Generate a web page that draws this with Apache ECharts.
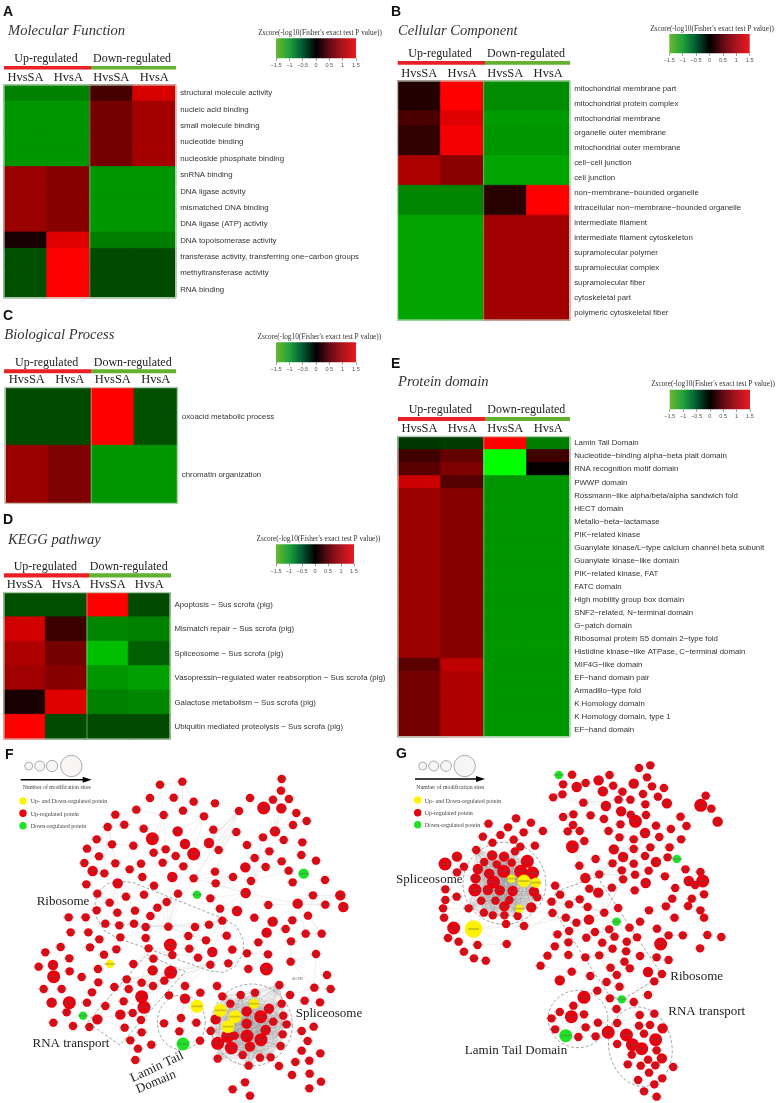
<!DOCTYPE html>
<html><head><meta charset="utf-8">
<style>html,body{margin:0;padding:0;background:#fff}#c{width:778px;height:1103px}</style>
<script src="https://cdn.jsdelivr.net/npm/echarts@6/dist/echarts.min.js"></script>
</head><body><div id="c"></div>
<script>
const columns = ['HvsSA','HvsA','HvsSA','HvsA'];
const legendTicks = [-1.5,-1,-0.5,0,0.5,1,1.5];

const aRows = ['structural molecule activity','nucleic acid binding','small molecule binding','nucleotide binding','nucleoside phosphate binding','snRNA binding','DNA ligase activity','mismatched DNA binding','DNA ligase (ATP) activity','DNA topoisomerase activity','transferase activity, transferring one\u2212carbon groups','methyltransferase activity','RNA binding'];
const aValues = [[-.76,-.76,.41,1.26],[-.88,-.88,.68,.97],[-.88,-.88,.68,.97],[-.88,-.88,.68,.97],[-.88,-.88,.68,.97],[.91,.79,-.88,-.88],[.91,.79,-.88,-.88],[.91,.79,-.88,-.88],[.91,.79,-.88,-.88],[.15,1.32,-.74,-.74],[-.47,1.5,-.44,-.44],[-.47,1.5,-.44,-.44],[-.47,1.5,-.44,-.44]];

const bRows = ['mitochondrial membrane part','mitochondrial protein complex','mitochondrial membrane','organelle outer membrane','mitochondrial outer membrane','cell\u2212cell junction','cell junction','non\u2212membrane\u2212bounded organelle','intracellular non\u2212membrane\u2212bounded organelle','intermediate filament','intermediate filament cytoskeleton','supramolecular polymer','supramolecular complex','supramolecular fiber','cytoskeletal part','polymeric cytoskeletal fiber'];
const bValues = [[.2,1.5,-.82,-.82],[.2,1.5,-.82,-.82],[.44,1.32,-.91,-.91],[.29,1.44,-.88,-.88],[.29,1.44,-.88,-.88],[1,.82,-.97,-.97],[1,.82,-.97,-.97],[-.79,-.79,.24,1.5],[-.79,-.79,.24,1.5],[-.97,-.97,.94,.94],[-.97,-.97,.94,.94],[-.97,-.97,.94,.94],[-.97,-.97,.94,.94],[-.97,-.97,.94,.94],[-.97,-.97,.94,.94],[-.97,-.97,.94,.94]];

const cRows = ['oxoacid metabolic process','chromatin organization'];
const cValues = [[-.44,-.44,1.5,-.47],[.91,.74,-.88,-.88]];

const dRows = ['Apoptosis \u2212 Sus scrofa (pig)','Mismatch repair \u2212 Sus scrofa (pig)','Spliceosome \u2212 Sus scrofa (pig)','Vasopressin\u2212regulated water reabsorption \u2212 Sus scrofa (pig)','Galactose metabolism \u2212 Sus scrofa (pig)','Ubiquitin mediated proteolysis \u2212 Sus scrofa (pig)'];
const dValues = [[-.47,-.47,1.5,-.44],[1.24,.35,-.79,-.76],[1.03,.68,-1.12,-.56],[.94,.79,-.88,-.94],[.15,1.32,-.76,-.79],[1.5,-.44,-.44,-.44]];

const eRows = ['Lamin Tail Domain','Nucleotide\u2212binding alpha\u2212beta plait domain','RNA recognition motif domain','PWWP domain','Rossmann\u2212like alpha/beta/alpha sandwich fold','HECT domain','Metallo\u2212beta\u2212lactamase','PIK\u2212related kinase','Guanylate kinase/L\u2212type calcium channel beta subunit','Guanylate kinase\u2212like domain','PIK\u2212related kinase, FAT','FATC domain','High mobility group box domain','SNF2\u2212related, N\u2212terminal domain','G\u2212patch domain','Ribosomal protein S5 domain 2\u2212type fold','Histidine kinase\u2212like ATPase, C\u2212terminal domain','MIF4G\u2212like domain','EF\u2212hand domain pair','Armadillo\u2212type fold','K Homology domain','K Homology domain, type 1','EF\u2212hand domain'];
const eValues = [[-.32,-.35,1.5,-.74],[.38,.59,-1.5,.38],[.53,.74,-1.5,.03],[1.2,.5,-.88,-.88],[.91,.79,-.88,-.88],[.91,.79,-.88,-.88],[.91,.79,-.88,-.88],[.91,.79,-.88,-.88],[.91,.79,-.88,-.88],[.91,.79,-.88,-.88],[.91,.79,-.88,-.88],[.91,.79,-.88,-.88],[.91,.79,-.88,-.88],[.91,.79,-.88,-.88],[.91,.79,-.88,-.88],[.91,.79,-.88,-.88],[.91,.79,-.88,-.88],[.53,1.12,-.88,-.88],[.68,1.03,-.88,-.88],[.68,1.03,-.88,-.88],[.68,1.03,-.88,-.88],[.68,1.03,-.88,-.88],[.68,1.03,-.88,-.88]];

// Network F: node readings [x, y, size class] in reference crop units
const fUp = [[480,119],[547,110],[450,159],[521,158],[581,170],[549,197],[645,175],[612,214],[409,194],[491,210],[346,209],[373,239],[323,246],[431,251],[533,259,2],[290,283],[457,281,3],[336,298],[400,302],[261,311],[297,334],[253,354],[346,355],[278,378,2],[313,385],[389,373],[423,356],[427,396],[461,323],[497,313],[527,333],[555,297,2],[581,327,3],[488,353],[550,364],[627,294,2],[656,315],[640,254],[709,261],[717,198],[750,159],[741,300],[789,277],[791,189,3],[819,164],[845,102],[843,137],[867,162],[844,190,2],[889,204],[920,228],[879,240],[825,259,2],[851,285],[907,292],[904,330],[948,347],[845,349],[808,319],[764,339],[736,367,2],[797,366],[866,377],[878,412],[975,405],[753,408],[737,444,2],[699,396],[645,380],[647,415],[581,400],[517,396,2],[462,422],[353,415,2],[259,418],[292,446],[378,455],[432,449],[329,473],[534,446],[631,460],[500,471],[472,488],[352,503],[405,497],[290,496],[316,536],[358,541],[402,536],[451,513],[437,546],[505,545],[585,546],[627,539],[667,527],[660,491],[711,498,2],[763,518],[805,480],[893,476,2],[939,451],[976,479],[1021,451,2],[1030,486,2],[924,512],[877,526],[818,530,2],[800,563,2],[857,552],[917,566],[965,566],[873,589],[775,592],[680,572],[565,573],[618,586],[361,577],[437,579],[511,600,3],[568,611],[637,621,2],[697,614],[517,630],[594,638],[685,655],[631,659],[741,625],[804,628],[745,672],[799,672,3],[872,650],[948,627],[446,610],[460,641],[400,657],[298,583],[270,607],[349,613],[312,629],[206,517],[257,517],[212,562],[265,562],[182,606],[136,622],[208,640],[116,665],[159,660,2],[209,679],[161,695,3],[294,672],[245,696],[295,712],[131,732],[185,732],[276,742],[155,773,2],[208,773,3],[261,773],[200,802],[160,833],[219,843],[268,846],[292,823,2],[316,783],[374,848],[343,726],[380,703],[425,713],[458,676,2],[512,682,3],[493,707],[459,723],[386,732],[425,755,3],[371,769],[432,787,3],[361,809,2],[398,804],[423,825],[507,751],[555,723],[555,761,2],[601,743],[651,723],[543,819],[589,833],[492,835],[538,859],[600,887],[425,862],[391,886],[454,899],[414,911],[406,945],[870,750],[914,767],[960,772],[943,728],[981,690],[992,732],[905,858],[941,845],[923,888],[905,917],[961,925],[886,951],[928,947],[837,963],[876,990],[929,986],[963,1010],[928,1030],[735,1012],[698,1033],[750,1052]];
const fSpliceUp = [[838,720],[667,754],[722,750],[765,743],[691,776],[845,776],[647,823,2],[632,858],[740,799,2],[807,791,2],[782,815,3],[850,812],[820,830],[860,838],[740,836,2],[797,855,2],[704,872],[683,874,3],[741,873,3],[783,884,3],[848,868],[653,895,3],[694,909,3],[750,905,2],[842,903],[728,930],[780,938],[812,937],[653,941],[746,962]];
const fBoth = [[330,657,1],[591,784,3],[762,776,2],[661,796,3],[705,815,3],[684,845,3]];
const fDown = [[911,386,2],[591,449],[249,812],[549,897,3]];
const fFans = [
[667,527,505,545,437,546,585,546,565,573,618,586,627,539,568,611,637,621,680,572,697,614,594,638,631,460,660,491],
[717,198,581,400,550,364,517,396,627,294,656,315,645,380,581,327,581,400,640,254],
[709,261,581,400,627,294,656,315,550,364],
[753,408,789,277,764,339,808,319,797,366,736,367,845,349,851,285,741,300,866,377,737,444],
[825,259,791,189,819,164,843,137,844,190,889,204,851,285,879,240,764,339,867,162],
[845,102,843,137,867,162,819,164],
[893,476,805,480,939,451,976,479,1021,451,924,512,877,526,818,530,737,444,965,566,917,566,1030,486],
[939,451,976,479,1021,451,924,512],[965,566,924,512,917,566],
[737,444,645,380,581,400,805,480,660,491,631,460,647,415],
[324,246,346,209,373,239,290,283,336,298,346,355,313,385,253,354,261,311],
[336,298,278,378,297,334,261,311,346,355,290,283,253,354,400,302],
[409,194,450,159,491,210,373,239,431,251,346,209],[491,210,480,119,457,281,497,313,461,323],
[547,110,521,158,612,214,549,197,581,170,480,119],[612,214,645,175,640,254,555,297,581,327,533,259],
[353,415,505,545,292,446,378,455,329,473,290,496,316,536,352,503,405,497,432,449,346,355,313,385,389,373,427,396],
[505,545,437,546,358,541,402,536,451,513,316,536,361,577,437,579,627,539,585,546,565,573,500,471,472,488,517,396,462,422,534,446,550,364,581,400,618,586,511,600,352,503],
[292,446,329,473,352,503,290,496,405,497],[316,536,358,541,402,536,352,503,361,577],
[446,610,458,676,512,682,425,713,380,703,400,657,460,641],
[631,659,512,682,458,676,493,707,555,723,425,755,380,703,459,723],
[512,682,380,703,425,713,386,732,343,726,371,769,432,787,361,809,316,783,292,823,398,804,459,723,493,707,425,755],
[432,787,343,726,386,732,374,848,361,809,423,825,292,823,371,769],[292,823,380,703,316,783,343,726,361,809,374,848],
[555,761,591,784,543,819,589,833,492,835,538,859,507,751],[549,897,543,819,492,835,589,833,538,859,600,887,591,784],
[943,728,914,767,870,750,960,772,981,690,992,732,948,627,860,838],
[905,858,941,845,923,888,905,917,961,925,848,868,860,838,886,951],
[804,628,741,625,745,672,799,672,800,563,775,592,873,589],[800,563,818,530,763,518,857,552],[872,650,948,627,873,589,943,728],
[206,517,257,517,212,562],[257,517,265,562],[159,660,116,665,136,622,182,606,208,640,209,679,161,695],[208,773,155,773,261,773,200,802],
[249,812,219,843,160,833,268,846,292,823],[298,583,270,607,349,613],[312,629,349,613],
[581,400,645,380,699,396,517,396,534,446],[660,491,711,498,631,460],[763,518,805,480,818,530],[445,610,568,611,517,630,594,638]
];
const fRibosome = [[353,408],[400,413],[680,525],[710,545],[730,585],[730,625],[705,665],[670,682],[630,678],[350,578],[310,555],[288,515],[285,470],[300,435],[325,415],[353,408]];
const fRna = [[440,628],[555,680],[360,900],[262,832],[440,628]];
const fRings = [[755,840,122,123,0],[544,832,72,82,0]];

// Network G
const gUp = [[549,89],[522,118],[563,126,2],[590,114],[629,106,2],[662,90],[673,122],[642,139,2],[701,140],[735,116,2],[751,69],[785,61],[775,97],[790,124],[826,129],[763,147],[808,155],[835,175,2],[770,178],[725,164],[689,164],[651,183,2],[697,199,2],[583,173],[520,148],[492,157],[522,216],[553,208],[605,211],[645,222],[695,238],[726,209],[772,210],[740,229,3],[552,240],[536,259],[572,258],[659,258],[692,277],[735,283],[769,264,2],[802,242],[812,276],[847,252],[894,243],[876,215],[937,181,3],[969,191],[952,152],[988,230,2],[878,283],[843,307],[785,307],[735,312],[675,313,2],[769,333],[703,336,2],[620,342],[671,355],[735,356],[802,351,2],[837,337],[891,373],[936,381],[943,408,3],[901,408,2],[829,394],[780,377],[739,389],[699,376],[631,388],[589,399,2],[571,362],[550,305,3],[586,288],[703,403],[669,428],[738,436],[771,414,2],[860,429],[920,420],[947,448],[910,461],[851,461],[832,484],[781,496],[899,483],[936,496],[947,518],[858,518],[754,530],[805,551],[840,571],[883,571],[957,570],[999,576],[816,597,3],[935,610],[804,637],[840,645],[778,681,2],[820,687],[797,709],[754,633],[722,548],[745,577],[688,489],[646,503],[596,486],[572,463],[540,478],[601,431],[628,443,2],[498,422],[513,449],[487,470],[490,504],[530,518],[562,533],[600,524,2],[540,558],[505,568],[592,578],[618,561],[661,553],[677,575],[640,593],[538,592],[497,604],[714,590],[671,611],[712,619],[631,631],[707,650],[538,630],[475,632],[589,637],[454,662],[548,680],[512,706,2],[604,693],[665,668],[723,670],[684,690],[653,711],[692,725],[625,737],[663,760],[735,771],[778,750],[683,792],[585,757,3],[547,815,3],[553,782],[512,801],[585,808],[487,820],[498,853],[568,876],[590,847],[620,874],[627,833],[658,862,3],[685,834],[753,810],[797,806],[751,842],[784,840],[822,850,2],[713,870,3],[766,866],[801,884,3],[685,897],[731,899,3],[759,911,3],[804,916],[729,929],[778,944],[820,940,2],[717,958],[756,962],[800,961],[854,966],[781,983],[748,1005],[821,1000],[797,1018],[766,1039],[804,1055],[380,220],[425,233],[356,247],[403,262],[461,258],[297,236],[280,275],[333,270],[373,284],[309,293],[393,305],[437,302],[202,335,2],[166,357,3],[223,365],[202,382],[167,433],[201,455],[167,465],[160,490],[163,518],[192,549,3],[350,537],[404,543],[175,579],[207,590],[264,600],[352,597],[223,620],[253,640],[289,647]];
const gSpliceUp = [[260,315],[308,331,2],[344,335,2],[377,319],[284,351],[367,353],[322,358],[414,349,3],[265,372,2],[299,386,2],[343,379,3],[394,379,3],[430,384,3],[258,400,2],[312,411,3],[256,435,3],[295,435,2],[331,436,2],[370,438,2],[434,440,2],[444,457],[275,467],[318,467],[360,465],[345,484,2],[426,487,2],[283,503],[310,511],[345,511],[385,513],[237,490]];
const gBoth = [[366,401,1],[404,408,3],[440,413,2],[390,491,1],[252,552,4]];
const gDown = [[509,90],[865,342],[683,530],[699,763],[530,872,3]];
const gFans = [
[647,503,596,486,688,489,600,524,562,533,540,478,513,449,487,470,683,530,661,553,631,631,677,575,589,399,631,388,628,443,669,428,703,403,735,356,769,264],
[589,399,513,449,498,422,571,362,631,388,703,336,735,312,769,264,802,351],
[631,388,769,264,735,283,703,336,671,355,739,389,829,394],
[769,264,692,277,735,283,703,336,671,355,735,356,703,403,802,242,659,258],
[583,173,520,148,492,157,522,118,563,126,642,139,651,183,605,211,522,216,689,164,725,164],
[659,258,645,222,697,199,651,183,675,313],[571,362,550,305,586,288,552,240,536,259,572,258],[461,258,522,216,403,262],
[487,470,540,478,530,518,600,524,540,558,572,463,513,449,592,578,640,593,671,611,631,631,444,457],
[631,631,671,611,712,619,665,668,684,690,692,725,699,763,707,650,589,637,723,670],
[699,763,692,725,663,760,735,771,778,750,797,709,683,792,685,834,653,711],
[685,834,627,833,658,862,713,870,751,842,766,866,753,810,731,899,685,897],
[784,840,753,810,797,806,751,842,822,850,766,866,713,870,801,884,731,899,759,911,804,916,729,929],
[759,911,729,929,778,944,820,940,717,958,756,962,800,961,801,884,685,897],
[781,983,756,962,800,961,748,1005,821,1000,797,1018],
[547,815,553,782,512,801,585,808,487,820,498,853,530,872,568,876,590,847,620,874,627,833,585,757],
[530,872,498,853,568,876,590,847,512,801,585,808,487,820],
[937,181,876,215,894,243,847,252,969,191,952,152,988,230],
[943,408,901,408,920,420,947,448,910,461,891,373,936,381,851,461,829,394],
[851,461,860,429,832,484,858,518,781,496,899,483,805,551],[947,518,936,496,957,570,899,483,935,610],
[840,571,883,571,805,551,816,597,804,637,754,530],
[237,490,163,518,160,490,167,465,201,455,167,433,252,552,264,600,192,549,275,467],
[252,552,175,579,207,590,264,600,352,597,404,543,350,537,283,503],
[264,600,223,620,253,640,289,647,207,590,352,597],[202,382,166,357,202,335,223,365,265,372,258,400],
[380,220,356,247,403,262,425,233,333,270,373,284,437,302],[297,236,280,275,333,270,309,293],[373,284,393,305,344,335,308,331,437,302],
[404,543,487,470,444,457,530,518],[352,597,490,504],
[712,619,677,575,714,590,745,577,722,548,754,633,778,681,688,489],[540,558,538,592,497,604,505,568,538,630,475,632],[548,680,454,662,589,637,512,706,604,693]
];
const gRibosome = [[625,395],[820,690],[700,765],[660,750],[490,490],[500,440],[625,395]];
const gRings = [[345,415,125,123,0],[567,822,90,86,0],[755,905,95,120,-0.2]];

const sizeClass = {1:8.4, 2:10.4, 3:13, 4:17.5};
const RED='#e8000e', YEL='#fff200', GRN='#1fe226';

function box(x0,x1,y0,y1){return {left:x0,top:y0,width:x1-x0,height:y1-y0};}
const heat = [
 {rows:aRows,vals:aValues,g:box(4,175.7,85,297.7)},
 {rows:bRows,vals:bValues,g:box(397.7,569.7,81,320)},
 {rows:cRows,vals:cValues,g:box(5.3,177.3,387.7,503.3)},
 {rows:dRows,vals:dValues,g:box(4,170,592.7,739)},
 {rows:eRows,vals:eValues,g:box(398,569.7,436.7,736.7)}
];
const bars = [box(276,356,38.3,58.3),box(669.3,749.7,34,53.3),box(276,356,342.3,362.3),box(276,354,544.3,563.7),box(669.7,750,389.7,409.3)];
const nets = [box(0,390,745,1103),box(390,778,745,1103)];
const ramp=v=>{const c=Math.round(Math.min(1,Math.abs(v)/1.5)*255);return v<0?`rgb(0,${c},0)`:`rgb(${c},0,0)`;};

const grid=[],xAxis=[],yAxis=[],series=[];
const sans='"Liberation Sans",Arial,sans-serif', serif='"Liberation Serif","Times New Roman",serif';
heat.forEach((h,i)=>{
  grid.push(Object.assign({show:false},h.g));
  xAxis.push({gridIndex:i,type:'category',position:'top',data:columns,axisLine:{show:false},axisTick:{show:false},splitLine:{show:false},
    axisLabel:{interval:0,margin:1,fontFamily:serif,fontSize:12.5,color:'#222'}});
  yAxis.push({gridIndex:i,type:'category',position:'right',inverse:true,data:h.rows,axisLine:{show:false},axisTick:{show:false},splitLine:{show:false},
    axisLabel:{interval:0,margin:4.5,fontFamily:sans,fontSize:7.85,color:'#333'}});
  const d=[];h.vals.forEach((r,y)=>r.forEach((v,x)=>d.push({value:[x,y,v],itemStyle:{borderWidth:.7,borderColor:ramp(v)}})));
  series.push({type:'heatmap',xAxisIndex:i,yAxisIndex:i,data:d,silent:true,emphasis:{disabled:true}});
});
bars.forEach((b,k)=>{
  const i=grid.length;
  grid.push(b);
  xAxis.push({gridIndex:i,type:'value',min:-1.5,max:1.5,interval:.5,axisLine:{show:false},splitLine:{show:false},
    axisTick:{show:true,length:2.5,lineStyle:{color:'#555',width:.6}},
    axisLabel:{margin:4.5,fontFamily:sans,fontSize:5.6,color:'#555',showMinLabel:true,showMaxLabel:true,formatter:v=>String(v).replace('-','\u2212')}});
  yAxis.push({gridIndex:i,type:'value',min:0,max:1,show:false});
  series.push({type:'custom',xAxisIndex:i,yAxisIndex:i,silent:true,data:[[legendTicks[0],legendTicks[6]]],
    renderItem:(p,api)=>{
      const a=api.coord([api.value(0),1]),c=api.coord([api.value(1),0]);
      return {type:'rect',shape:{x:a[0],y:a[1],width:c[0]-a[0],height:c[1]-a[1]},
        style:{fill:new echarts.graphic.LinearGradient(0,0,1,0,[
          {offset:0,color:'#6bb82e'},{offset:.17,color:'#1ea03c'},{offset:.33,color:'#005a32'},{offset:.5,color:'#000'},
          {offset:.67,color:'#640a14'},{offset:.83,color:'#aa141e'},{offset:1,color:'#eb191e'}])}};
    }});
});
const ellipse=(r)=>{const [cx,cy,rx,ry,t]=r,out=[];for(let a=0;a<=72;a++){const q=a/72*2*Math.PI,x=rx*Math.cos(q),y=ry*Math.sin(q);
  out.push([cx+x*Math.cos(t)-y*Math.sin(t),cy+x*Math.sin(t)+y*Math.cos(t)]);}return out;};
const fanLines=f=>{const o=[];f.forEach(a=>{for(let j=2;j<a.length;j+=2)o.push({coords:[[a[0],a[1]],[a[j],a[j+1]]]});});return o;};
const clique=n=>{const o=[];for(let a=0;a<n.length;a++)for(let b=a+1;b<n.length;b++)o.push({coords:[[n[a][0],n[a][1]],[n[b][0],n[b][1]]]});return o;};
function addNet(g,fans,cluster,paths,rings,up,both,down){
  const i=grid.length;
  grid.push(g);
  xAxis.push({gridIndex:i,type:'value',min:0,max:1170,show:false});
  yAxis.push({gridIndex:i,type:'value',min:0,max:1074,inverse:true,show:false});
  const ax={xAxisIndex:i,yAxisIndex:i,coordinateSystem:'cartesian2d',silent:true};
  series.push(Object.assign({type:'lines',data:fanLines(fans),lineStyle:{color:'#e0e0e0',width:.5,opacity:1},z:2},ax));
  series.push(Object.assign({type:'lines',data:clique(cluster),lineStyle:{color:'#8e8e8e',width:.35,opacity:.5},z:2},ax));
  series.push(Object.assign({type:'lines',polyline:true,data:paths.concat(rings.map(ellipse)).map(c=>({coords:c})),lineStyle:{color:'#666',width:.6,type:[3,2],opacity:1},z:3},ax));
  const nodes=(d,c)=>series.push(Object.assign({type:'scatter',data:d,symbolSize:v=>sizeClass[v[2]||1],itemStyle:{color:c,opacity:1},z:4,emphasis:{disabled:true}},ax));
  nodes(up,RED);nodes(both,YEL);nodes(down,GRN);
  series.push(Object.assign({type:'scatter',data:up.concat(both,down),symbol:'rect',symbolSize:[11,1.8],itemStyle:{color:'rgba(90,90,90,.4)'},z:5,emphasis:{disabled:true}},ax));
}
addNet(nets[0],fFans,fSpliceUp.concat(fBoth.slice(2)),[fRibosome,fRna],fRings,fUp.concat(fSpliceUp),fBoth,fDown);
addNet(nets[1],gFans,gSpliceUp.concat(gBoth.slice(0,4)),[gRibosome],gRings,gUp.concat(gSpliceUp),gBoth,gDown);

// Annotation layer
const gfx=[];
heat.forEach(h=>{
  const g=h.g;
  gfx.push({type:'rect',silent:true,z:15,shape:{x:g.left,y:g.top,width:g.width,height:g.height},style:{fill:'none',stroke:'#cfe3cf',lineWidth:1}});
  const mid=g.left+g.width/2;
  gfx.push({type:'line',silent:true,z:15,shape:{x1:mid,y1:g.top,x2:mid,y2:g.top+g.height},style:{stroke:'rgba(225,240,225,.55)',lineWidth:.8}});
});
const T=(x,y,t,font,fill,extra)=>gfx.push(Object.assign({type:'text',x,y,silent:true,z:20,style:Object.assign({text:t,font,fill,align:'center',verticalAlign:'middle'},extra&&extra.style)},extra&&extra.el));
const L=(x,y,t,font,fill)=>T(x,y,t,font,fill,{style:{align:'left'}});
const R=(x,y,w,h,fill)=>gfx.push({type:'rect',silent:true,z:20,shape:{x,y,width:w,height:h},style:{fill}});
const panels=[
 {l:'A',lx:3,ly:12,t:'Molecular Function',tx:8,ty:31,hy:59,upx:46,dnx:132,by:66,bh:3.4,b0:4,b1:91,b2:176,lgx:320,lgy:32.7},
 {l:'B',lx:391,ly:12,t:'Cellular Component',tx:398,ty:31,hy:54,upx:440,dnx:526,by:61,bh:3.7,b0:397.7,b1:485,b2:570,lgx:712,lgy:28.7},
 {l:'C',lx:3,ly:316,t:'Biological Process',tx:4.3,ty:334.7,hy:363,upx:46.7,dnx:132.7,by:369.3,bh:4,b0:4,b1:91.7,b2:176,lgx:319.3,lgy:336.7},
 {l:'D',lx:3,ly:520,t:'KEGG pathway',tx:8,ty:540.3,hy:567.3,upx:45.3,dnx:128.7,by:573.3,bh:4.3,b0:4,b1:89,b2:171,lgx:318.3,lgy:539},
 {l:'E',lx:391,ly:364,t:'Protein domain',tx:398,ty:382,hy:410.3,upx:440.3,dnx:526.3,by:417,bh:4,b0:398,b1:485.7,b2:570,lgx:713,lgy:384.3}
];
panels.forEach(p=>{
  L(p.lx,p.ly,p.l,'bold 14px '+sans,'#111');
  L(p.tx,p.ty,p.t,'italic 14.6px '+serif,'#333');
  T(p.upx,p.hy,'Up-regulated','12px '+serif,'#222');
  T(p.dnx,p.hy,'Down-regulated','12px '+serif,'#222');
  R(p.b0,p.by,p.b1-p.b0,p.bh,'#ea2027');R(p.b1,p.by,p.b2-p.b1,p.bh,'#62b22f');
  T(p.lgx,p.lgy,"Zscore(-log10(Fisher's exact test P value))",'7.3px '+serif,'#333');
});
function netLegend(ox,lx,cy,c,ax,ay,tx,ty,rows,letter,leX,leY){
  L(leX,leY,letter,'bold 14px '+sans,'#111');
  c.forEach(q=>gfx.push({type:'circle',silent:true,z:20,shape:{cx:q[0],cy:cy,r:q[1]},style:{fill:'#f8f5f5',stroke:'#777',lineWidth:.6}}));
  gfx.push({type:'line',silent:true,z:20,shape:{x1:ax[0],y1:ay,x2:ax[1]-5,y2:ay},style:{stroke:'#000',lineWidth:1.4}});
  gfx.push({type:'polygon',silent:true,z:20,shape:{points:[[ax[1],ay],[ax[1]-9,ay-3],[ax[1]-9,ay+3]]},style:{fill:'#000'}});
  T(tx,ty,'Number of modification sites','5.8px '+serif,'#444');
  rows.forEach(r=>{
    gfx.push({type:'circle',silent:true,z:20,shape:{cx:lx,cy:r[0],r:3.7},style:{fill:r[2]}});
    L(r[3],r[1],r[4],'6px '+serif,'#444');
  });
}
netLegend(0,23,766,[[28.7,4],[39.7,5],[52,5.7],[71.3,10.7]],[20.7,91.7],779.7,56.7,787.7,
  [[801,801.7,YEL,30.7,'Up- and Down-regulated potein'],[813.3,814,RED,30.7,'Up-regulated potein'],[825.7,826,GRN,30.7,'Down-regulated potein']],'F',5,755);
netLegend(0,417.7,766,[[422.7,4],[433.7,5],[446,5.4],[464.7,10.7]],[415,485],779,450.3,787.3,
  [[800,801,YEL,424.7,'Up- and Down-regulated potein'],[812.7,813.3,RED,424.7,'Up-regulated potein'],[824.7,825,GRN,424.7,'Down-regulated potein']],'G',396,754);
const anno='13px '+serif;
T(63,901.7,'Ribosome',anno,'#222');T(71,1044,'RNA transport',anno,'#222');T(329,1014,'Spliceosome',anno,'#222');
gfx.push({type:'text',x:157,y:1067,rotation:25*Math.PI/180,silent:true,z:20,style:{text:'Lamin Tail',font:anno,fill:'#222',align:'center',verticalAlign:'middle'}});
gfx.push({type:'text',x:156,y:1082,rotation:23*Math.PI/180,silent:true,z:20,style:{text:'Domain',font:anno,fill:'#222',align:'center',verticalAlign:'middle'}});
T(297.5,979,'GLO95','3.5px '+sans,'#666');
T(429.3,880,'Spliceosome',anno,'#222');T(696.7,976.7,'Ribosome',anno,'#222');T(706.7,1011.7,'RNA transport',anno,'#222');T(516,1050.7,'Lamin Tail Domain',anno,'#222');

const chart=echarts.init(document.getElementById('c'),null,{renderer:'canvas'});
chart.setOption({animation:false,backgroundColor:'#fff',grid,xAxis,yAxis,series,graphic:gfx,
  visualMap:{show:false,type:'continuous',min:-1.5,max:1.5,seriesIndex:[0,1,2,3,4],inRange:{color:['#00ff00','#000000','#ff0000']}}});
</script></body></html>
